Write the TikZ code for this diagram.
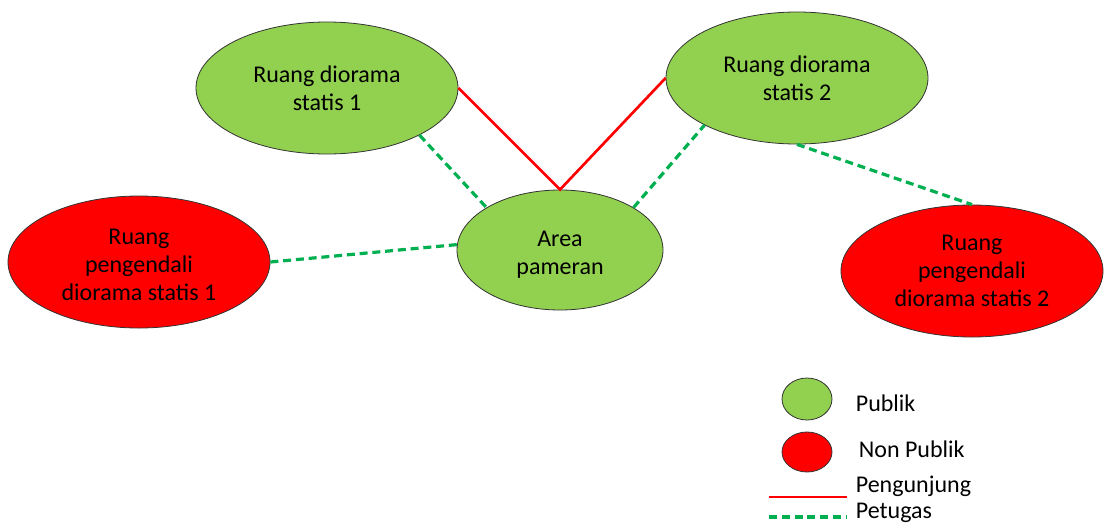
\documentclass[tikz,border=0pt]{standalone}
\usepackage{fontspec}
\setmainfont{Carlito}
\usepackage{tikz}
\usetikzlibrary{positioning,shapes.geometric}
\definecolor{pubgreen}{HTML}{92D050}
\definecolor{staffgreen}{HTML}{00B050}
\definecolor{nonpubred}{HTML}{FF0000}
\tikzset{
every path/.style={line width=0.6pt}
, every node/.style={font=\fontsize{18}{21}\selectfont, align=center}
, pubnode/.style={ellipse,draw=black!80,fill=pubgreen,inner sep=0pt}
, nonpubnode/.style={ellipse,draw=black!80,fill=nonpubred,inner sep=0pt}
, bigroom/.style={minimum width=196.5pt,minimum height=99pt}
, visitorline/.style={draw=nonpubred,line width=2pt}
, staffline/.style={draw=staffgreen,line width=2.4pt,dash pattern=on 6pt off 3.6pt}}

\begin{document}
\begin{tikzpicture}[x=0.75pt,y=-0.75pt]
\useasboundingbox (0,0) rectangle (1104,526);
\node[pubnode, bigroom] at (327,88) (dio1) {Ruang diorama\\statis 1};
\node[pubnode, bigroom] at (797,78) (dio2) {Ruang diorama\\statis 2};
\node[pubnode, minimum width=154.5pt, minimum height=90pt] at (560,250) (area) {};
\node at (560,255) (arealbl) {Area\\pameran};
\node[nonpubnode, bigroom] at (139,262) (ctl1) {};
\node at (139,265) (ctl1lbl) {Ruang\\pengendali\\diorama statis 1};
\node[nonpubnode, bigroom] at (972,271) (ctl2) {Ruang\\pengendali\\diorama statis 2};
% connectors
\draw [visitorline] (dio1.east) -- (area.north) -- (dio2.west);
\draw [staffline] (dio1.-27.5) -- (area.150);
\draw [staffline] (area.30) -- (dio2.207);
\draw [staffline] (ctl1.east) -- (area.177);
\draw [staffline] (dio2.south) -- (ctl2.north);
% legend
\node[pubnode, minimum width=37.5pt, minimum height=31.5pt] at (807,399) (legpub) {};
\node[nonpubnode, minimum width=37.5pt, minimum height=30pt] at (807,452) (legnon) {};
\node[anchor=west] at (851,403) (legpubtxt) {Publik};
\node[anchor=west] at (854,449) (legnontxt) {Non Publik};
\coordinate (visa) at (769,497);
\coordinate (visb) at (847,497);
\coordinate (stfa) at (769,517);
\coordinate (stfb) at (847,517);
\node[anchor=west] at (851,486) (legvis) {Pengunjung};
\node[anchor=west] at (851,513) (legstf) {Petugas};
\draw [visitorline] (visa) -- (visb);
\draw [staffline] (stfa) -- (stfb);
\end{tikzpicture}
\end{document}
